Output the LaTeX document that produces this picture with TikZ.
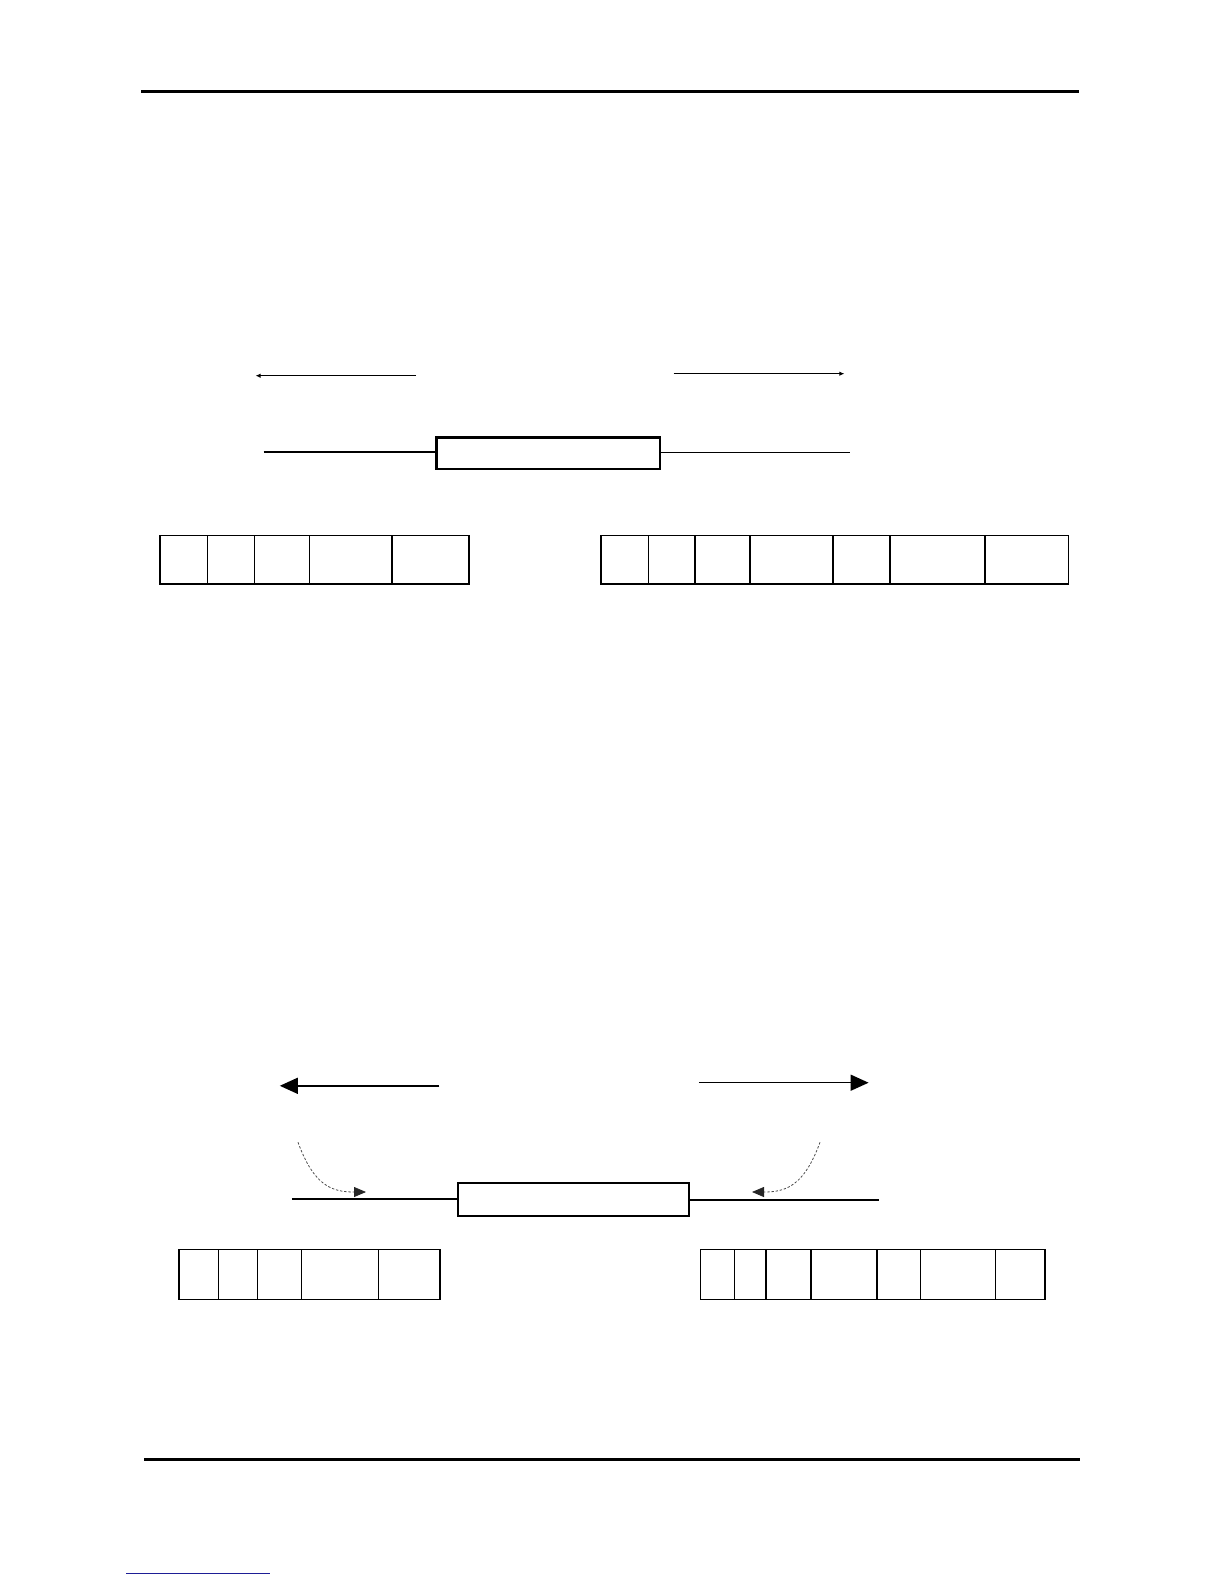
\documentclass[tikz,border=0pt]{standalone}
\usetikzlibrary{arrows.meta}
\definecolor{linkblue}{RGB}{30,30,150}
\tikzset{
  rule/.style={line width=1.5pt},
  conn/.style={line width=0.7pt},
  thinarrow/.style={line width=0.6pt,-{Latex[length=2.5pt,width=2.2pt]}},
  bigarrow/.style={line width=0.75pt,-{Triangle[length=9pt,width=8pt]}},
  curvearrow/.style={line width=0.4pt,gray!60!black,dash pattern=on 1.2pt off 0.9pt,-{Triangle[length=6pt,width=5pt,color=black!85]}},
  mainbox/.style={draw,line width=1.2pt,inner sep=0pt,anchor=north west},
  cell/.style={draw,line width=0.85pt,inner sep=0pt,anchor=north west}
}
\begin{document}
\begin{tikzpicture}[x=0.5pt,y=-0.5pt]
\useasboundingbox (0,0) rectangle (1224,1584);
% header and footer rules
\coordinate (hl) at (141,91.8);
\coordinate (hr) at (1079,91.8);
\draw[rule] (hl) -- (hr);
\coordinate (fl) at (144,1459);
\coordinate (fr) at (1080,1459);
\draw[rule] (fl) -- (fr);
\coordinate (bl) at (126,1573.5);
\coordinate (br) at (270,1573.5);
\draw[linkblue,line width=0.6pt] (bl) -- (br);

% ---------- top figure ----------
\coordinate (a1s) at (416,375.7);
\coordinate (a1e) at (255.5,375.7);
\draw[thinarrow] (a1s) -- (a1e);
\coordinate (a2s) at (673.7,373.7);
\coordinate (a2e) at (844.4,373.7);
\draw[thinarrow] (a2s) -- (a2e);

\node[mainbox,minimum width=111.6pt,minimum height=15.6pt] (boxA) at (435.3,436.3) {};
\coordinate (lA) at (263.6,451.9);
\coordinate (rA) at (850.4,452.6);
\draw[conn] (lA) -- (lA -| boxA.west);
\draw[conn] (boxA.east |- rA) -- (rA);

\foreach \a/\b [count=\i] in {159.3/206.7,206.7/253.7,253.7/308.7,308.7/391,391/468}
  \node[cell,minimum width={(\b-\a)*0.5pt},minimum height=24.15pt] (tL\i) at (\a,534.7) {};
\foreach \a/\b [count=\i] in {600/647.7,647.7/694.3,694.3/749.3,749.3/832.3,832.3/889.3,889.3/984.3,984.3/1067.6}
  \node[cell,minimum width={(\b-\a)*0.5pt},minimum height=24.15pt] (tR\i) at (\a,534.7) {};

% ---------- bottom figure ----------
\coordinate (b1s) at (439.4,1085.8);
\coordinate (b1e) at (279.8,1085.8);
\draw[bigarrow] (b1s) -- (b1e);
\coordinate (b2s) at (698.9,1082.7);
\coordinate (b2e) at (868.6,1082.7);
\draw[bigarrow] (b2s) -- (b2e);

\node[mainbox,minimum width=115.65pt,minimum height=16.65pt] (boxB) at (456.5,1181.7) {};
\coordinate (lB) at (291.9,1198.9);
\coordinate (rB) at (878.7,1199.9);
\draw[conn] (lB) -- (lB -| boxB.west);
\draw[conn] (boxB.east |- rB) -- (rB);

\coordinate (c1s) at (298,1142.3);
\coordinate (c1e) at (366,1192);
\draw[curvearrow] (c1s) .. controls (314,1186) and (332,1192) .. (c1e);
\coordinate (c2s) at (820,1142.3);
\coordinate (c2e) at (752,1192);
\draw[curvearrow] (c2s) .. controls (804,1186) and (786,1192) .. (c2e);

\foreach \a/\b [count=\i] in {178.3/217.7,217.7/256.7,256.7/300.7,300.7/377.7,377.7/439}
  \node[cell,minimum width={(\b-\a)*0.5pt},minimum height=24.95pt] (uL\i) at (\a,1248.7) {};
\foreach \a/\b [count=\i] in {699.7/733.7,733.7/765.3,765.3/810.3,810.3/876.3,876.3/919.7,919.7/994.7,994.7/1044.3}
  \node[cell,minimum width={(\b-\a)*0.5pt},minimum height=24.95pt] (uR\i) at (\a,1248.7) {};
\end{tikzpicture}
\end{document}
